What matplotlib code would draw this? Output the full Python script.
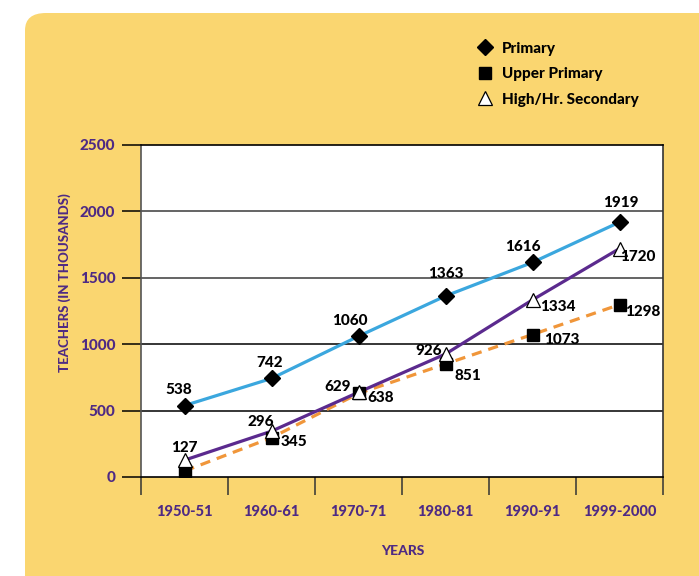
import matplotlib.pyplot as plt
import numpy as np
from matplotlib.lines import Line2D
from matplotlib.patches import FancyBboxPatch


years = ["1950-51", "1960-61", "1970-71", "1980-81", "1990-91", "1999-2000"]

# teachers, in thousands
primary = [538, 742, 1060, 1363, 1616, 1919]
upper_primary = [45, 296, 629, 851, 1073, 1298]
secondary = [127, 345, 638, 926, 1334, 1720]

y_ticks = [0, 500, 1000, 1500, 2000, 2500]

# label offsets in points (dx, dy); None means no label for that point
primary_offsets = [(-4, 11), (-1, 11), (-6, 11), (0, 16), (-7, 11), (1, 14)]
upper_offsets = [None, (-8, 11), (-15, 5), (16, -9), (21, -4), (17, -5)]
secondary_offsets = [(0, 9), (16, -8), (16, -4), (-12, 2), (18, -5), (13, -6)]

YELLOW = "#FAD670"
PURPLE = "#4E2A84"
BLUE = "#3BA7DE"
VIOLET = "#5B2A8E"
ORANGE = "#F0963A"
HEAVY = 900

plt.rcParams["font.family"] = ["Lato", "DejaVu Sans"]
plt.rcParams["font.weight"] = HEAVY

fig = plt.figure(figsize=(6.99, 5.76), dpi=100)
fig.patch.set_facecolor("white")

# rounded yellow panel behind everything
panel = FancyBboxPatch(
    (25 / 699, -0.05), 1.1, 1 - 13 / 576 + 0.05,
    boxstyle="round,pad=0,rounding_size=0.03",
    transform=fig.transFigure, facecolor=YELLOW, edgecolor="none", zorder=-5,
)
fig.patches.append(panel)

ax = fig.add_axes([141 / 699, 1 - 477 / 576, 522 / 699, 332 / 576])
ax.set_zorder(2)
ax.set_facecolor("white")

x = np.arange(len(years))

ax.plot(x, primary, color=BLUE, lw=2.3, zorder=3)
ax.plot(x, upper_primary, color=ORANGE, lw=2.3, dashes=(3.2, 2.2), zorder=3)
ax.plot(x, secondary, color=VIOLET, lw=2.3, zorder=3)

ax.plot(x, primary, ls="none", marker="D", ms=8.5, color="black", zorder=4)
ax.plot(x, upper_primary, ls="none", marker="s", ms=8, color="black", zorder=4)
ax.plot(x, secondary, ls="none", marker="^", ms=9.5, markerfacecolor="white",
        markeredgecolor="black", markeredgewidth=0.9, zorder=5)

for values, offsets in [
    (primary, primary_offsets),
    (upper_primary, upper_offsets),
    (secondary, secondary_offsets),
]:
    for xi, val, off in zip(x, values, offsets):
        if off is None:
            continue
        ax.annotate(
            str(val), (xi, val), xytext=off, textcoords="offset points",
            ha="center", va="center", fontsize=11, fontweight=HEAVY,
            color="black", zorder=6,
        )

ax.set_ylim(0, 2500)
ax.set_xlim(-0.5, len(years) - 0.5)

# horizontal rules at each tick
for yv in y_ticks[1:-1]:
    ax.axhline(yv, color="#3a3a3a" if yv >= 1500 else "black", lw=1.1, zorder=1)

ax.set_yticks(y_ticks)
ax.set_yticklabels([str(v) for v in y_ticks])
ax.tick_params(axis="y", length=13.5, width=1.1, pad=5, labelsize=11,
               labelcolor=PURPLE, color="black")

ax.set_xticks(x)
ax.set_xticklabels(years)
ax.set_xticks(np.arange(-0.5, len(years)), minor=True)
ax.tick_params(axis="x", which="major", length=0, pad=20, labelsize=10.5,
               labelcolor=PURPLE)
ax.tick_params(axis="x", which="minor", length=13, width=1.1, color="#333333")

for lbl in ax.get_xticklabels() + ax.get_yticklabels():
    lbl.set_fontweight(HEAVY)

for side in ["left", "right", "top", "bottom"]:
    ax.spines[side].set_linewidth(1.2)
ax.spines["left"].set_color("#555555")
ax.spines["right"].set_color("#333333")
ax.spines["top"].set_color("black")
ax.spines["bottom"].set_color("black")

fig.text(65 / 699, 1 - 283 / 576, "TEACHERS (IN THOUSANDS)", rotation=90,
         ha="center", va="center", fontsize=9.5, fontweight=HEAVY,
         color=PURPLE)
fig.text(403 / 699, 1 - 551 / 576, "YEARS", ha="center", va="center",
         fontsize=10, fontweight=HEAVY, color=PURPLE)

handles = [
    Line2D([], [], ls="none", marker="D", ms=8.5, color="black"),
    Line2D([], [], ls="none", marker="s", ms=8, color="black"),
    Line2D([], [], ls="none", marker="^", ms=9.5, markerfacecolor="white",
           markeredgecolor="black", markeredgewidth=0.9),
]
fig.legend(
    handles, ["Primary", "Upper Primary", "High/Hr. Secondary"],
    loc="upper left", bbox_to_anchor=(462 / 699, 1 - 28 / 576),
    frameon=False, handlelength=1.2, handletextpad=0.5,
    labelspacing=0.75, prop={"weight": HEAVY, "size": 11},
)

fig.savefig("out.png", dpi=100, facecolor=fig.get_facecolor())
